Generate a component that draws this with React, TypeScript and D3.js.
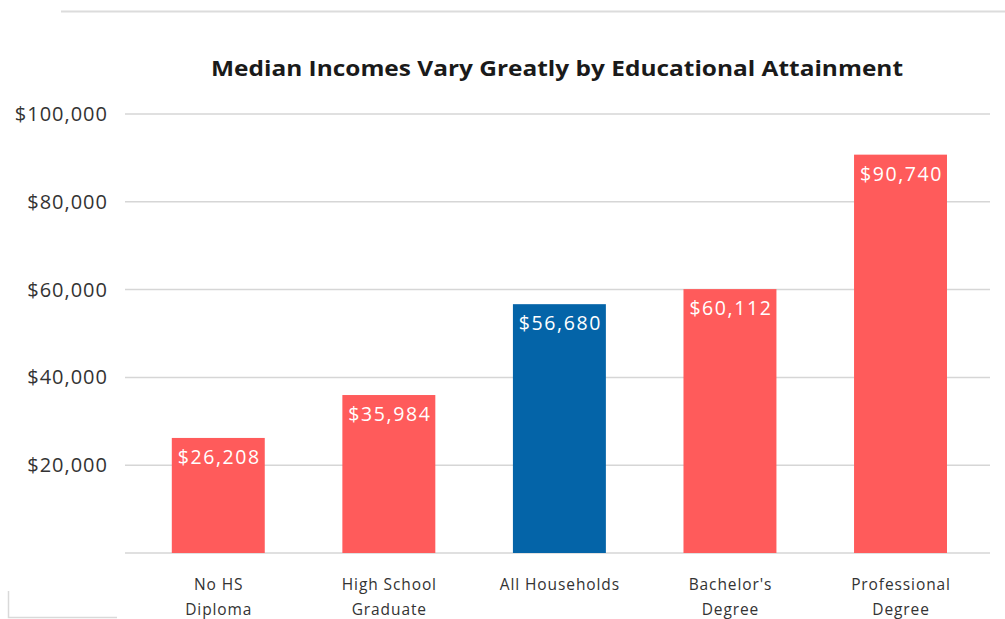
import React from "react";
import * as d3 from "d3";

const categories = ["No HS|Diploma", "High School|Graduate", "All Households", "Bachelor's|Degree", "Professional|Degree"];
const incomes = [26208, 35984, 56680, 60112, 90740];
const highlight = [false, false, true, false, false];
const yTicks = [20000, 40000, 60000, 80000, 100000];
const title = "Median Incomes Vary Greatly by Educational Attainment";

export default function App() {
  const W = 1005, H = 619;
  const x = d3.scaleBand<string>().domain(categories).range([133, 985.8]).paddingInner(0.455).paddingOuter(0.2275);
  const y = d3.scaleLinear().domain([0, 100000]).range([553, 114]);
  const fmt = (v: number) => "$" + d3.format(",")(v);
  const font = "'Open Sans', Lato, sans-serif";
  return (
    <svg width={W} height={H} style={{ position: "absolute", left: 0, top: 0, background: "#fff" }}>
      <line x1={61} x2={1005} y1={11.5} y2={11.5} stroke="#dcdcdc" strokeWidth={2} />
      <polyline points="8.5,591 8.5,617.5 117,617.5" fill="none" stroke="#d9d9d9" strokeWidth={1.5} />
      <text x={557} y={76} textAnchor="middle" fontFamily={font} fontWeight="bold" fontSize={21} fill="#1a1a1a" textLength={692} lengthAdjust="spacingAndGlyphs">{title}</text>
      {[0, ...yTicks].map((t) => (
        <line key={t} x1={125} x2={990} y1={y(t)} y2={y(t)} stroke="#d6d6d6" strokeWidth={1.5} />
      ))}
      {yTicks.map((t) => (
        <text key={t} x={108} y={y(t) + 7} textAnchor="end" fontFamily={font} fontSize={20} letterSpacing={1} fill="#333">{fmt(t)}</text>
      ))}
      {categories.map((c, i) => {
        const bx = x(c)!;
        const bw = x.bandwidth();
        const top = y(incomes[i]);
        const lines = c.split("|");
        return (
          <g key={c}>
            <rect x={bx} y={top} width={bw} height={y(0) - top} fill={highlight[i] ? "#0464a8" : "#ff5b5b"} />
            <text x={bx + bw / 2 + 1} y={top + 26} textAnchor="middle" fontFamily={font} fontSize={19.5} letterSpacing={1.6} fill="#fff">{fmt(incomes[i])}</text>
            {lines.map((l, j) => (
              <text key={j} x={bx + bw / 2 + 0.5} y={590 + j * 25} textAnchor="middle" fontFamily={font} fontSize={15.5} letterSpacing={0.9} fill="#333">{l}</text>
            ))}
          </g>
        );
      })}
    </svg>
  );
}
